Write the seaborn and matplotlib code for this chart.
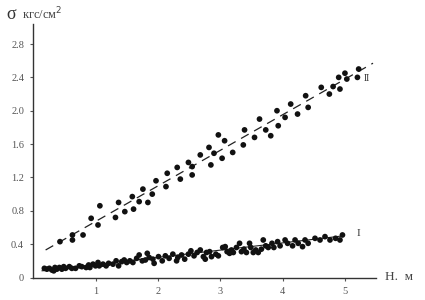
import numpy as np
import pandas as pd
import matplotlib
matplotlib.use("Agg")
import matplotlib.pyplot as plt
import seaborn as sns

# ── Series I (lower cloud) ──────────────────────────────
h1 = [0.18, 0.22, 0.26, 0.30, 0.33, 0.35, 0.38, 0.42, 0.46, 0.49,
      0.52, 0.58, 0.62, 0.68, 0.74, 0.78, 0.85, 0.89, 0.91, 0.96,
      1.00, 1.04, 1.06, 1.12, 1.17, 1.21, 1.28, 1.33, 1.37, 1.42,
      1.46, 1.50, 1.55, 1.60, 1.66, 1.70, 1.75, 1.80, 1.83, 1.86,
      1.92, 1.94, 2.01, 2.07, 2.12, 2.18, 2.24, 2.30, 2.32, 2.38,
      2.43, 2.49, 2.53, 2.58, 2.63, 2.68, 2.73, 2.76, 2.78, 2.83,
      2.86, 2.93, 2.97, 3.04, 3.08, 3.11, 3.15, 3.18, 3.21, 3.26,
      3.31, 3.34, 3.38, 3.42, 3.47, 3.49, 3.53, 3.57, 3.61, 3.66,
      3.69, 3.73, 3.77, 3.83, 3.86, 3.92, 3.96, 4.04, 4.08, 4.16,
      4.20, 4.25, 4.32, 4.36, 4.41, 4.52, 4.60, 4.68, 4.76, 4.85,
      4.92, 4.96]
v1 = [0.11, 0.10, 0.11, 0.09, 0.08, 0.12, 0.10, 0.12, 0.10, 0.13,
      0.11, 0.13, 0.11, 0.11, 0.14, 0.13, 0.12, 0.15, 0.12, 0.16,
      0.14, 0.18, 0.14, 0.16, 0.14, 0.17, 0.16, 0.20, 0.14, 0.19,
      0.21, 0.18, 0.20, 0.18, 0.23, 0.27, 0.20, 0.21, 0.29, 0.24,
      0.22, 0.17, 0.25, 0.20, 0.26, 0.23, 0.28, 0.20, 0.24, 0.27,
      0.22, 0.28, 0.32, 0.26, 0.30, 0.33, 0.25, 0.22, 0.30, 0.31,
      0.25, 0.28, 0.26, 0.36, 0.37, 0.31, 0.29, 0.33, 0.30, 0.36,
      0.41, 0.31, 0.34, 0.30, 0.41, 0.36, 0.30, 0.33, 0.30, 0.34,
      0.45, 0.38, 0.36, 0.41, 0.36, 0.43, 0.38, 0.45, 0.41, 0.38,
      0.45, 0.41, 0.37, 0.45, 0.41, 0.47, 0.45, 0.49, 0.45, 0.47,
      0.45, 0.51]

# ── Series II (upper cloud) ─────────────────────────────
h2 = [0.43, 0.63, 0.63, 0.80, 0.93, 1.04, 1.07, 1.32, 1.37, 1.47,
      1.59, 1.61, 1.70, 1.76, 1.84, 1.91, 1.97, 2.13, 2.15, 2.31,
      2.36, 2.49, 2.55, 2.55, 2.68, 2.82, 2.85, 2.90, 2.97, 3.03,
      3.07, 3.20, 3.37, 3.39, 3.55, 3.63, 3.73, 3.81, 3.91, 3.93,
      4.04, 4.13, 4.24, 4.37, 4.41, 4.62, 4.75, 4.81, 4.90, 4.92,
      5.00, 5.03, 5.22, 5.20]
v2 = [0.43, 0.51, 0.45, 0.51, 0.71, 0.63, 0.86, 0.72, 0.90, 0.79,
      0.97, 0.82, 0.91, 1.06, 0.90, 1.00, 1.16, 1.09, 1.25, 1.32,
      1.18, 1.38, 1.33, 1.23, 1.47, 1.56, 1.35, 1.49, 1.71, 1.43,
      1.64, 1.50, 1.59, 1.77, 1.68, 1.90, 1.77, 1.70, 2.00, 1.82,
      1.92, 2.08, 1.96, 2.18, 2.04, 2.28, 2.20, 2.29, 2.40, 2.26,
      2.45, 2.38, 2.50, 2.40]

# fitted lines (end points)
fit1_h = [0.14, 4.98]
fit1_v = [0.08, 0.50]
fit2_h = [0.20, 5.45]
fit2_v = [0.33, 2.57]

x_ticks = [1, 2, 3, 4, 5]
y_ticks = [0, 0.4, 0.8, 1.2, 1.6, 2.0, 2.4, 2.8]
y_tick_labels = ["0", "0.4", "0.8", "1.2", "1.6", "2.0", "2.4", "2.8"]

sns.set_style("ticks")
plt.rcParams["font.family"] = ["Liberation Serif", "DejaVu Serif"]

pts = pd.concat([
    pd.DataFrame({"H": h1, "sigma": v1, "series": "I"}),
    pd.DataFrame({"H": h2, "sigma": v2, "series": "II"}),
])

fig = plt.figure(figsize=(4.25, 3.0), dpi=100)
ax = fig.add_axes([0.078, 0.075, 0.807, 0.845])

sns.scatterplot(data=pts, x="H", y="sigma", hue="series",
                palette={"I": "#111111", "II": "#111111"},
                s=17, edgecolor="none", legend=False, ax=ax, zorder=3)

sns.lineplot(x=fit1_h, y=fit1_v, color="#222222", linewidth=0.8, ax=ax)
sns.lineplot(x=fit2_h, y=fit2_v, color="#222222", linewidth=0.9, ax=ax)
ax.lines[-1].set_dashes((7, 5))

ax.text(5.35, 2.39, "II", fontsize=7, color="#333333", ha="center", va="center")
ax.text(5.21, 0.53, "I", fontsize=8, color="#333333", ha="center", va="center")

ax.set_xlim(0, 5.5)
ax.set_ylim(0, 3.04)
ax.set_xticks(x_ticks)
ax.set_xticklabels([str(t) for t in x_ticks])
ax.set_yticks(y_ticks)
ax.set_yticklabels(y_tick_labels)
ax.tick_params(axis="both", labelsize=7.5, colors="#555555", length=2.5,
               width=0.8, pad=4)
ax.set_xlabel("")
ax.set_ylabel("")
sns.despine(ax=ax)
for sp in ("left", "bottom"):
    ax.spines[sp].set_color("#333333")
    ax.spines[sp].set_linewidth(1.0)

fig.text(0.014, 0.953, "σ", fontsize=13, color="#333333", va="center")
fig.text(0.052, 0.953, "кгс/см$^2$", fontsize=9, color="#444444", va="center")
fig.text(0.905, 0.075, "H.  м", fontsize=9.5, color="#444444", va="center")

fig.savefig("out.png", dpi=100)
